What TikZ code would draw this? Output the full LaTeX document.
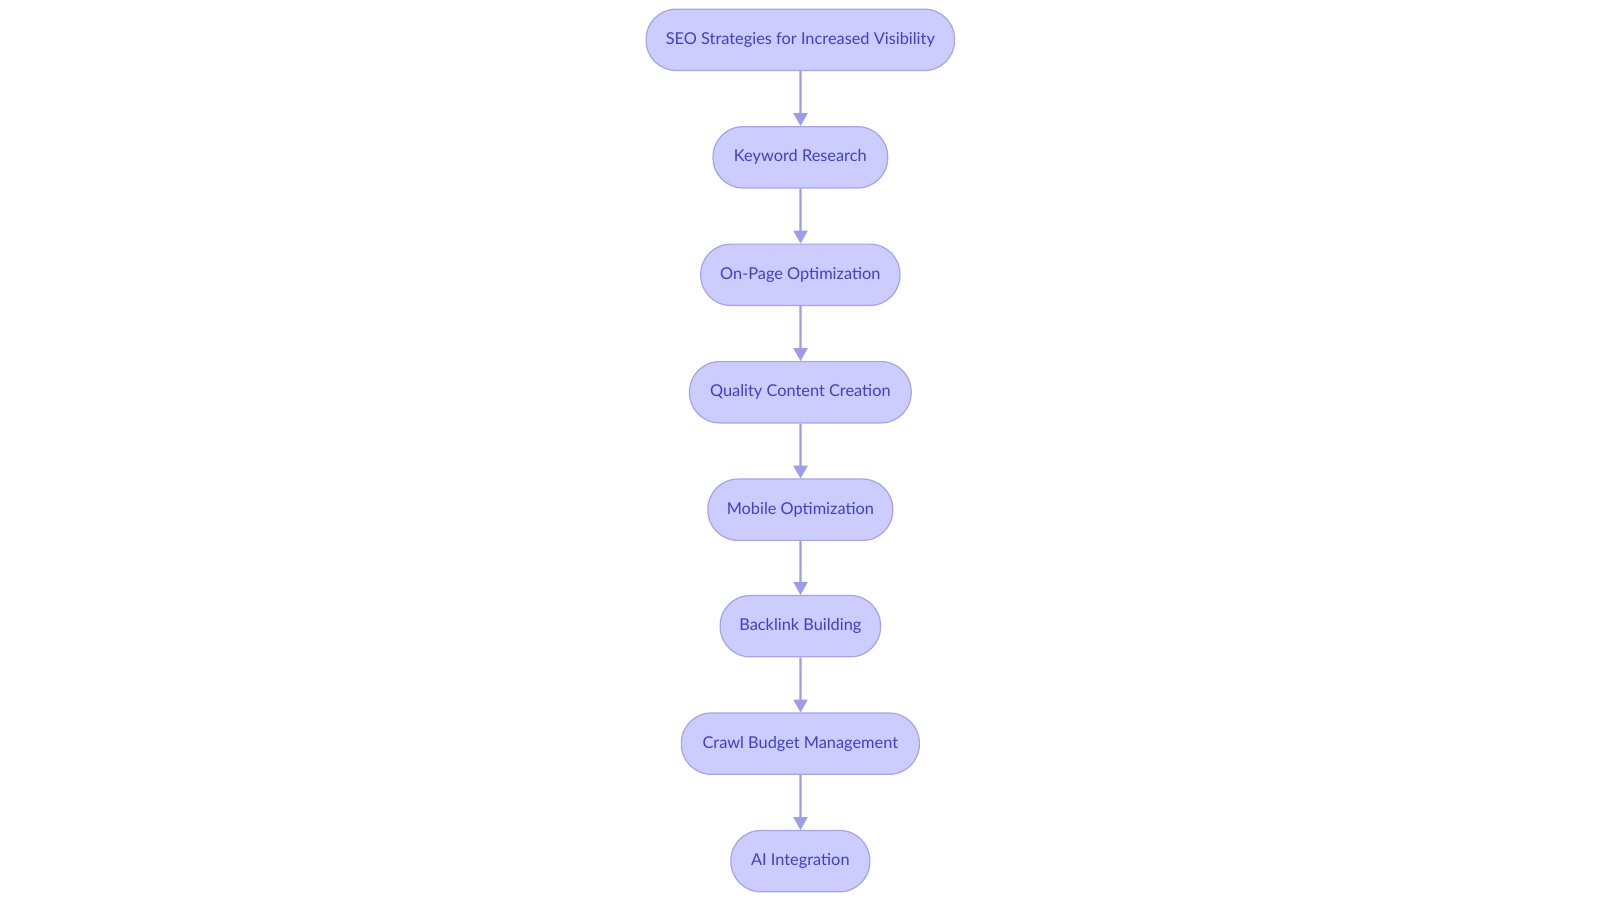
\documentclass[tikz,border=0pt]{standalone}
\usepackage{fontspec}
\setmainfont{Lato}
\usetikzlibrary{arrows.meta}
\definecolor{nfill}{HTML}{CCCCFF}
\definecolor{nstroke}{HTML}{A3A3F2}
\definecolor{ntext}{HTML}{3F3FCF}
\definecolor{arr}{HTML}{9C9CEE}
\begin{document}
\begin{tikzpicture}[x=1pt,y=-1pt,
  stepbox/.style={draw=nstroke,fill=nfill,line width=1.2pt,rounded corners=30pt,
    minimum height=60pt,inner sep=0pt,text=ntext,font=\fontsize{16}{19}\selectfont},
  flow/.style={draw=arr,line width=2.2pt,-{Triangle[length=13pt,width=14pt]}}]
\useasboundingbox (0,0) rectangle (1600,903);
\begin{scope}[scale=1.0215,transform shape]
\node[stepbox,minimum width=302pt] (n1) at (783.5,39) {SEO Strategies for Increased Visibility};
\node[stepbox,minimum width=171pt] (n2) at (783.5,154) {Keyword Research};
\node[stepbox,minimum width=195pt] (n3) at (783.5,269) {On-Page Optimization};
\node[stepbox,minimum width=217pt] (n4) at (783.5,384) {Quality Content Creation};
\node[stepbox,minimum width=181pt] (n5) at (783.5,499) {Mobile Optimization};
\node[stepbox,minimum width=157pt] (n6) at (783.5,613) {Backlink Building};
\node[stepbox,minimum width=233pt] (n7) at (783.5,728) {Crawl Budget Management};
\node[stepbox,minimum width=136pt] (n8) at (783.5,843) {AI Integration};
\foreach \a/\b in {n1/n2,n2/n3,n3/n4,n4/n5,n5/n6,n6/n7,n7/n8}
  \draw[flow] (\a) -- (\b);
\end{scope}
\end{tikzpicture}
\end{document}
